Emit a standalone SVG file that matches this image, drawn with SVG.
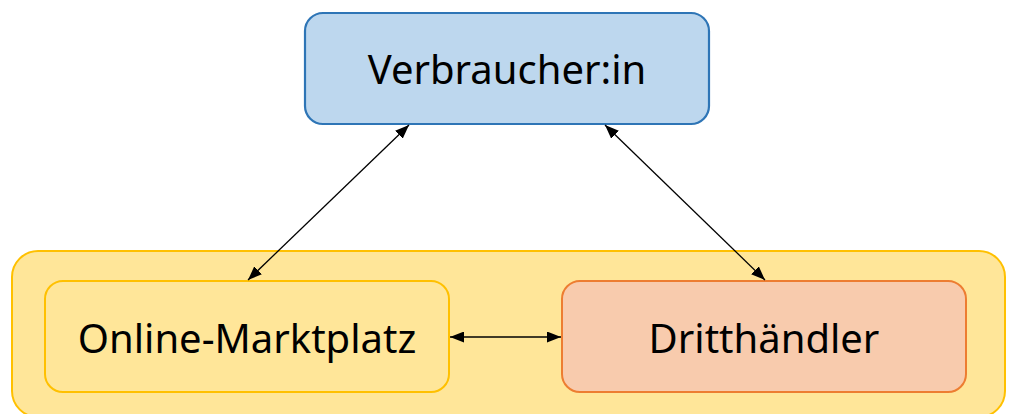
<svg xmlns="http://www.w3.org/2000/svg" width="1010" height="414" viewBox="0 0 1010 414">
<defs>
<style>
.lbl{font-family:"Noto Sans","Liberation Sans",sans-serif;font-size:40px;fill:#000;text-anchor:middle}
.con{stroke:#000;stroke-width:1.3;fill:none;marker-start:url(#ah);marker-end:url(#ah)}
</style>
<marker id="ah" viewBox="0 0 14 11" refX="14" refY="5.5" markerWidth="14" markerHeight="11" markerUnits="userSpaceOnUse" orient="auto-start-reverse">
<path d="M0,0 L14,5.5 L0,11 Z" fill="#000"/>
</marker>
</defs>
<rect width="1010" height="414" fill="#fff"/>
<g id="container">
<rect x="12" y="251" width="993" height="166" rx="26" fill="#FFE699" stroke="#FFC000" stroke-width="2"/>
</g>
<g id="verbraucher">
<rect x="305" y="13" width="404" height="111" rx="18" fill="#BDD7EE" stroke="#2E75B6" stroke-width="2.2"/>
<text class="lbl" x="507" y="84">Verbraucher:in</text>
</g>
<g id="marktplatz">
<rect x="45" y="281" width="404" height="111" rx="18" fill="#FFE699" stroke="#FFC000" stroke-width="2"/>
<text class="lbl" x="247" y="353">Online-Marktplatz</text>
</g>
<g id="haendler">
<rect x="562" y="281" width="404" height="111" rx="18" fill="#F8CBAD" stroke="#ED7D31" stroke-width="2"/>
<text class="lbl" x="764" y="353">Dritthändler</text>
</g>
<g id="connectors">
<line class="con" x1="409" y1="125" x2="248" y2="280"/>
<line class="con" x1="605" y1="125" x2="765" y2="280"/>
<line class="con" x1="450" y1="337" x2="561" y2="337"/>
</g>
</svg>
